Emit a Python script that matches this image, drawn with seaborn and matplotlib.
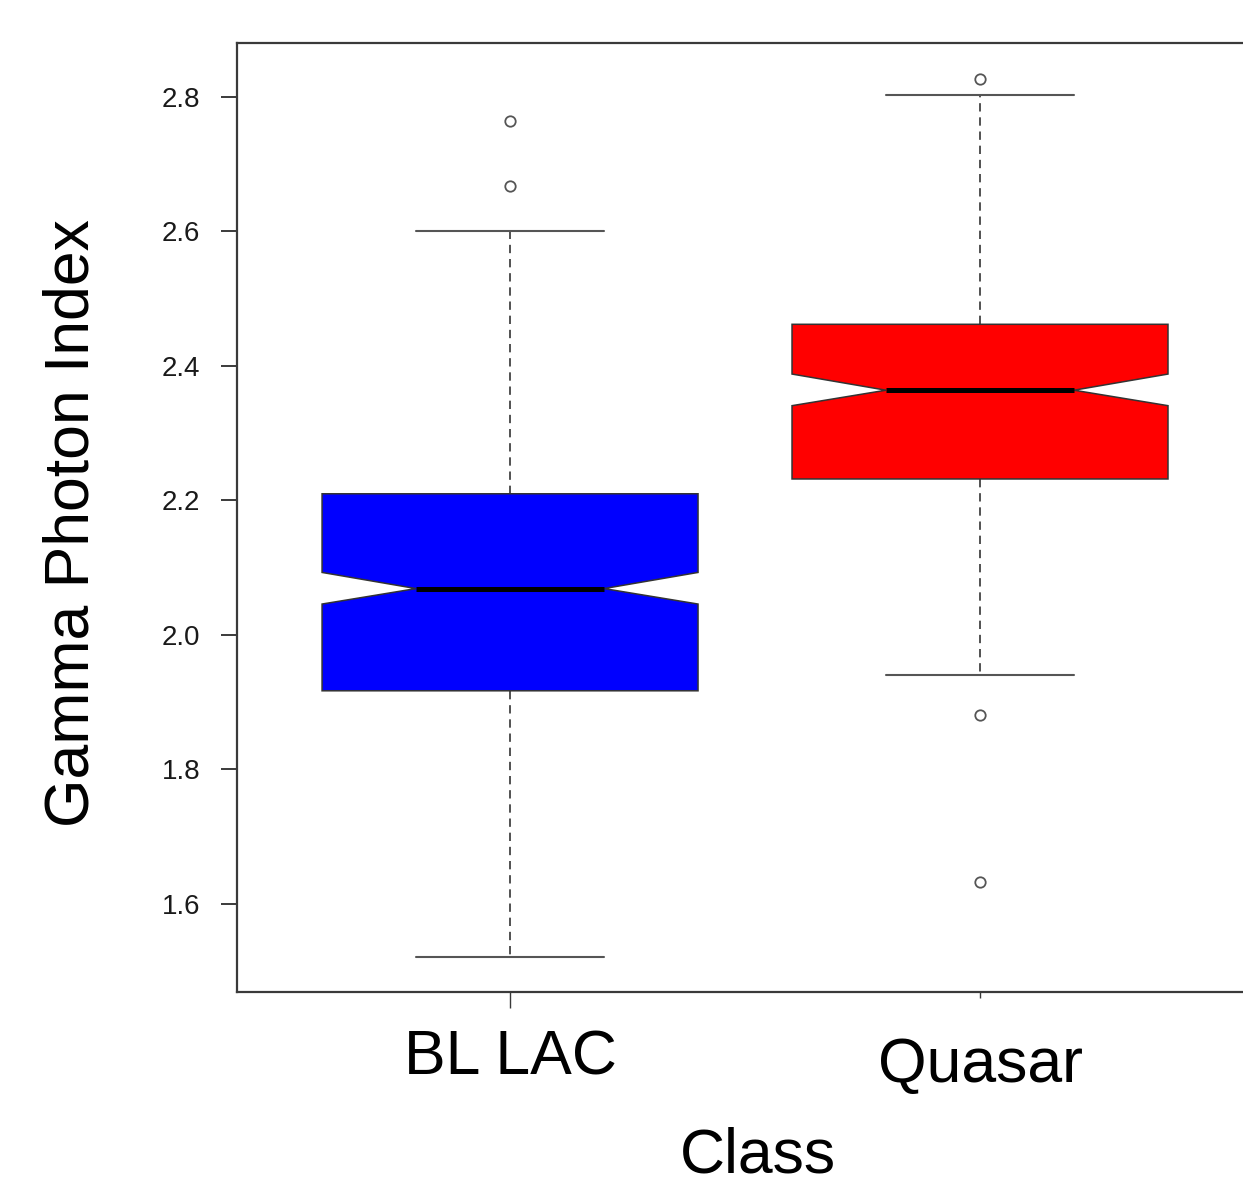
import matplotlib
matplotlib.use("Agg")
import matplotlib.pyplot as plt
import matplotlib.transforms as mtransforms
import seaborn as sns

# ---- data ----
categories = ["BL LAC", "Quasar"]
box_colors = ["#0000FF", "#FF0000"]
whisker_low = [1.521, 1.941]
q1 = [1.917, 2.232]
median = [2.069, 2.364]
q3 = [2.210, 2.462]
whisker_high = [2.600, 2.803]
notch_low = [2.046, 2.341]
notch_high = [2.093, 2.388]
outliers = [[2.765, 2.667], [2.827, 1.881, 1.633]]
y_ticks = [1.6, 1.8, 2.0, 2.2, 2.4, 2.6, 2.8]

sns.set_style("white")
plt.rcParams["font.family"] = ["Liberation Sans", "DejaVu Sans"]

fig = plt.figure(figsize=(12.43, 11.84), dpi=100)
ax = fig.add_axes([237 / 1243, 1 - 992 / 1184, 1 - 237 / 1243, (992 - 43) / 1184])

stats = []
for i, name in enumerate(categories):
    stats.append(dict(label=name, med=median[i], q1=q1[i], q3=q3[i],
                      whislo=whisker_low[i], whishi=whisker_high[i],
                      cilo=notch_low[i], cihi=notch_high[i],
                      fliers=outliers[i]))

positions = list(range(len(categories)))
res = ax.bxp(stats, positions=positions, widths=0.8, shownotches=True,
             patch_artist=True, manage_ticks=False,
             boxprops=dict(edgecolor="#333333", linewidth=1.1),
             medianprops=dict(color="black", linewidth=3.6, solid_capstyle="butt"),
             whiskerprops=dict(color="#333333", linewidth=1.2, linestyle=(0, (5, 3.5))),
             capprops=dict(color="#555555", linewidth=1.5),
             flierprops=dict(marker="o", markersize=7.5, markerfacecolor="white",
                             markeredgecolor="#555555", markeredgewidth=1.3))
for patch, c in zip(res["boxes"], box_colors):
    patch.set_facecolor(c)

ax.set_xlim(-0.581, 1.5596)
ax.set_ylim(1.4691, 2.8803)
ax.set_yticks(y_ticks)
ax.set_yticklabels([f"{t:.1f}" for t in y_ticks])
ax.set_xticks(positions)
ax.set_xticklabels(categories)

for side in ["left", "bottom", "top"]:
    ax.spines[side].set_color("#3a3a3a")
    ax.spines[side].set_linewidth(1.6)
ax.spines["right"].set_visible(False)

ax.tick_params(axis="y", direction="out", length=11.5, width=1.4, color="#3a3a3a",
               labelsize=20, labelcolor="#1a1a1a", pad=15, left=True)
ax.tick_params(axis="x", direction="out", length=11.5, width=1.0, color="#3a3a3a",
               labelsize=45, labelcolor="black", pad=15, bottom=True)

# second category tick is shorter and its label sits a little lower in the reference
xt = ax.xaxis.get_major_ticks()
xt[1].tick1line.set_markersize(4.6)
xt[1].label1.set_transform(xt[1].label1.get_transform() +
                           mtransforms.ScaledTranslation(0, -0.07, fig.dpi_scale_trans))

ax.set_ylabel("Gamma Photon Index", fontsize=45, color="black")
ax.yaxis.set_label_coords(-0.135, 0.494)
ax.set_xlabel("Class", fontsize=45, color="black")
ax.xaxis.set_label_coords(0.518, -0.142)

fig.savefig("out.png", dpi=100)
